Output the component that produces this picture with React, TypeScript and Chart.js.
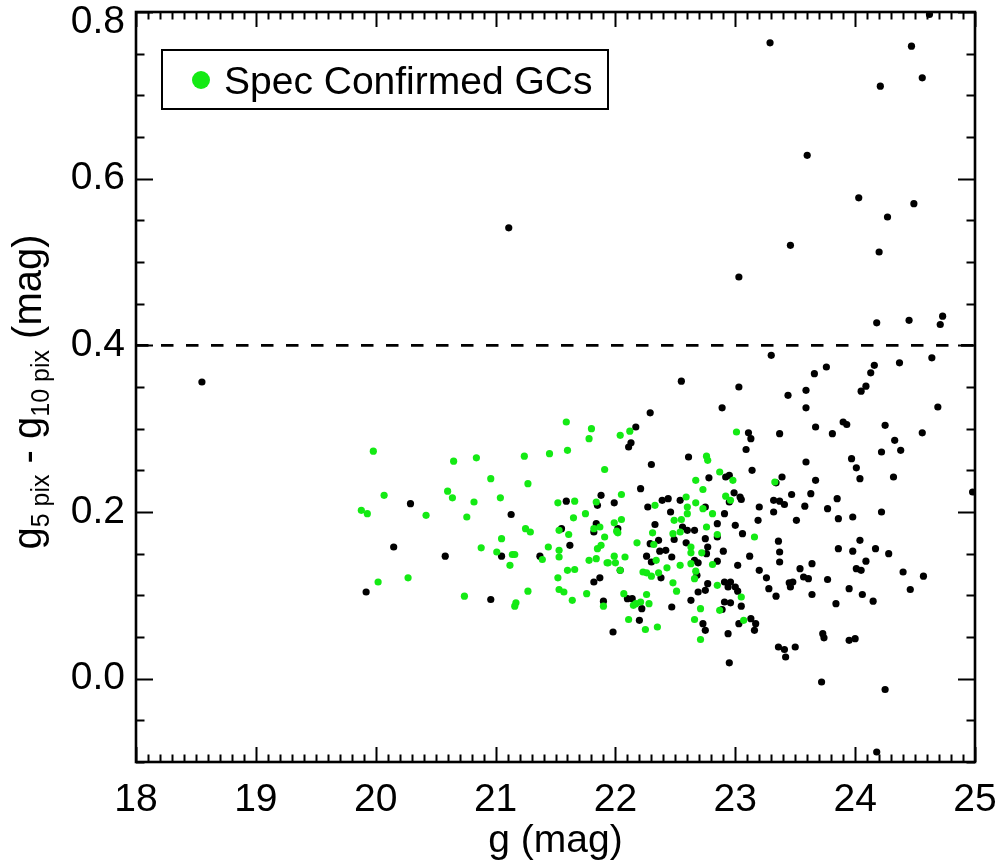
import React, { useEffect, useRef } from "react";
import { Chart, registerables } from "chart.js";

Chart.register(...registerables);

// ---- axes ----
const X_MIN = 18;
const X_MAX = 25;
const Y_MIN = -0.1;
const Y_MAX = 0.8;
const X_TICKS = [18, 19, 20, 21, 22, 23, 24, 25];
const Y_TICKS = [0.0, 0.2, 0.4, 0.6, 0.8];
const X_MINOR_STEP = 0.1;
const Y_MINOR_STEP = 0.05;
const DASH_LEVEL = 0.4;

const X_TITLE = "g (mag)";
const Y_TITLE_PARTS = [
  { text: "g", sub: false },
  { text: "5 pix", sub: true },
  { text: " - g", sub: false },
  { text: "10 pix", sub: true },
  { text: " (mag)", sub: false },
];
const LEGEND_LABEL = "Spec Confirmed GCs";

// ---- data: all sources (black) ----
const allG = [
  18.55, 21.11, 23.29, 24.47, 24.56, 24.21, 24.62, 23.60, 24.03, 24.49, 24.27, 23.46, 24.20, 23.03, 24.18, 24.45, 24.71, 24.73,
  23.30, 24.64, 24.37, 24.16, 24.13, 23.76, 23.66, 22.55, 23.03, 24.09, 24.05, 23.44, 23.59, 24.98,
  23.59, 24.69, 24.25, 24.56, 23.90, 23.93, 23.67, 23.81, 23.37, 23.11, 23.13, 24.33, 24.38, 24.22, 23.09, 23.59, 23.97, 24.01,
  23.14, 24.04, 24.32, 23.39, 23.67, 23.34, 23.47, 23.63, 23.85, 23.04, 23.05, 23.32, 23.37, 23.41, 23.20, 23.58, 23.77, 23.32,
  24.22, 23.86, 23.98, 23.51, 23.19, 23.06, 23.36, 24.04, 23.86, 23.98, 24.17, 24.28, 23.37, 23.12, 23.37, 23.64, 24.09, 23.02,
  23.20, 23.54, 24.01, 24.05, 24.40, 24.57, 23.26, 23.57, 23.61, 23.77, 23.45, 23.48, 23.46, 23.28, 23.95, 24.46, 23.34, 23.64,
  24.06, 23.05, 23.84, 24.15, 23.13, 23.17, 23.16, 23.73, 23.74, 23.95, 24.00, 23.36, 23.41, 23.42, 23.50, 23.72, 24.25, 24.18,
  22.29, 22.89, 22.17, 22.13, 22.11, 22.61, 22.30, 22.21, 22.78, 22.92, 22.95, 22.99, 22.95, 21.59, 21.88, 21.85, 21.99, 22.27,
  22.39, 22.44, 22.54, 22.75, 22.46, 21.13, 22.91, 23.00, 22.85, 22.33, 22.56, 22.60, 22.66, 22.75, 22.85, 21.82, 21.84, 21.55,
  22.02, 21.62, 21.37, 21.05, 22.29, 22.36, 22.37, 22.42, 22.49, 22.47, 22.26, 22.30, 22.59, 22.77, 22.76, 22.90, 22.66, 22.69,
  22.85, 22.68, 22.38, 22.04, 21.87, 21.82, 22.77, 22.91, 22.96, 22.94, 23.00, 23.02, 22.69, 22.75, 22.63, 22.91, 22.96, 22.89,
  22.47, 22.10, 22.14, 21.90, 22.22, 22.20, 21.98, 22.73, 22.75, 22.94, 23.03, 22.95,
  20.29, 20.15, 20.58, 19.92, 20.96,
];
const allV = [
  0.356, 0.541, 0.763, 0.759, 0.721, 0.711, 0.797, 0.628, 0.577, 0.570, 0.554, 0.520, 0.512, 0.482, 0.427, 0.430, 0.425, 0.435,
  0.388, 0.385, 0.379, 0.376, 0.367, 0.374, 0.366, 0.357, 0.350, 0.351, 0.345, 0.340, 0.346, 0.224,
  0.325, 0.326, 0.304, 0.295, 0.308, 0.305, 0.302, 0.294, 0.294, 0.295, 0.288, 0.286, 0.274, 0.272, 0.275, 0.260, 0.264, 0.253,
  0.250, 0.240, 0.242, 0.242, 0.238, 0.235, 0.221, 0.222, 0.216, 0.218, 0.215, 0.214, 0.213, 0.209, 0.206, 0.207, 0.204, 0.200,
  0.200, 0.192, 0.194, 0.190, 0.190, 0.174, 0.165, 0.166, 0.156, 0.153, 0.156, 0.150, 0.152, 0.147, 0.140, 0.138, 0.141, 0.136,
  0.130, 0.132, 0.132, 0.130, 0.128, 0.123, 0.121, 0.122, 0.120, 0.119, 0.115, 0.116, 0.110, 0.108, 0.108, 0.107, 0.099, 0.101,
  0.101, 0.087, 0.090, 0.093, 0.072, 0.066, 0.058, 0.054, 0.049, 0.046, 0.048, 0.038, 0.035, 0.026, 0.038, -0.004, -0.013, -0.088,
  0.319, 0.325, 0.302, 0.283, 0.278, 0.266, 0.257, 0.228, 0.241, 0.242, 0.244, 0.223, 0.212, 0.213, 0.220, 0.208, 0.211, 0.206,
  0.214, 0.216, 0.214, 0.206, 0.200, 0.197, 0.198, 0.184, 0.186, 0.185, 0.182, 0.178, 0.178, 0.168, 0.170, 0.176, 0.186, 0.180,
  0.180, 0.160, 0.147, 0.147, 0.162, 0.166, 0.153, 0.154, 0.167, 0.146, 0.147, 0.140, 0.163, 0.158, 0.150, 0.153, 0.142, 0.139,
  0.141, 0.124, 0.121, 0.130, 0.121, 0.116, 0.114, 0.116, 0.116, 0.110, 0.110, 0.105, 0.104, 0.106, 0.094, 0.092, 0.091, 0.083,
  0.086, 0.096, 0.096, 0.093, 0.084, 0.070, 0.056, 0.066, 0.058, 0.054, 0.066, 0.019,
  0.210, 0.158, 0.147, 0.104, 0.095,
];

// ---- data: spectroscopically confirmed GCs (green) ----
const gcG = [
  23.01, 23.33, 23.16, 23.05, 23.07,
  21.59, 21.80, 21.78, 22.04, 22.12, 21.45, 21.60, 21.24, 21.91, 21.27, 21.04, 22.76, 22.77, 22.87, 22.67, 22.98, 22.73,
  22.92, 22.96, 22.59, 22.67, 22.60, 22.60, 22.73, 22.81, 22.55, 22.49, 22.76, 22.54, 22.48, 22.31, 22.85, 22.33, 22.05, 21.84,
  21.66, 21.52, 21.75, 21.65, 22.05, 21.99, 21.87, 21.82, 22.01, 22.02, 21.53, 21.25, 21.29, 21.05, 21.61, 21.91, 22.18, 22.32,
  21.88, 21.85, 21.44, 21.53, 22.63, 22.63, 22.72, 21.14, 21.16, 21.53, 21.39, 21.99, 22.08, 21.78, 21.84, 21.93, 21.94, 22.00,
  22.34, 22.54, 22.63, 22.81, 22.43, 21.12, 21.60, 21.66, 22.04, 22.23, 22.26, 22.30, 22.36, 22.67, 22.66, 21.52, 22.48, 22.51,
  22.85, 21.27, 21.53, 21.57, 21.76, 22.07, 22.26, 21.64, 21.17, 21.16, 21.90, 22.15, 22.21, 22.17, 22.28, 22.71, 22.87, 22.11,
  22.25, 22.35, 22.66, 22.71,
  19.98, 20.65, 20.84, 20.96, 20.07, 20.60, 20.64, 20.82, 19.88, 19.93, 20.42, 20.76, 20.88, 21.01, 20.02, 20.27, 20.74,
];
const gcV = [
  0.296, 0.236, 0.170, 0.098, 0.070,
  0.308, 0.300, 0.288, 0.292, 0.297, 0.270, 0.274, 0.267, 0.251, 0.234, 0.217, 0.267, 0.262, 0.248, 0.238, 0.238, 0.227,
  0.219, 0.214, 0.218, 0.211, 0.206, 0.198, 0.204, 0.198, 0.191, 0.190, 0.182, 0.176, 0.174, 0.175, 0.173, 0.208, 0.221, 0.212,
  0.213, 0.211, 0.198, 0.193, 0.191, 0.187, 0.182, 0.180, 0.177, 0.175, 0.178, 0.180, 0.176, 0.168, 0.173, 0.170, 0.163, 0.161,
  0.160, 0.156, 0.158, 0.154, 0.158, 0.151, 0.151, 0.149, 0.149, 0.146, 0.143, 0.147, 0.146, 0.142, 0.144, 0.139, 0.139, 0.139,
  0.142, 0.136, 0.138, 0.137, 0.133, 0.136, 0.130, 0.131, 0.130, 0.128, 0.127, 0.123, 0.127, 0.129, 0.120, 0.121, 0.115, 0.105,
  0.112, 0.105, 0.107, 0.104, 0.102, 0.102, 0.101, 0.094, 0.091, 0.087, 0.087, 0.088, 0.092, 0.090, 0.090, 0.084, 0.082, 0.071,
  0.059, 0.062, 0.071, 0.047,
  0.273, 0.261, 0.265, 0.240, 0.220, 0.225, 0.217, 0.212, 0.202, 0.198, 0.196, 0.194, 0.157, 0.152, 0.116, 0.121, 0.099,
];

const FONT_FAMILY = '"Liberation Sans", Arial, Helvetica, sans-serif';
const GREEN = "#14ea14";
const FONT_SIZE = 39;

const framePlugin = {
  id: "idlFrame",
  afterDatasetsDraw(chart: any) {
    const { ctx, chartArea: a } = chart;
    const xs = chart.scales.x;
    const ys = chart.scales.y;
    ctx.save();
    ctx.strokeStyle = "#000";
    ctx.lineWidth = 2;
    ctx.beginPath();
    const nx = Math.round((X_MAX - X_MIN) / X_MINOR_STEP);
    for (let i = 0; i <= nx; i++) {
      const v = X_MIN + i * X_MINOR_STEP;
      const px = Math.round(xs.getPixelForValue(v)) + 0.5;
      const major = X_TICKS.some((t) => Math.abs(t - v) < 1e-6);
      const len = major ? 15 : 7.5;
      ctx.moveTo(px, a.bottom);
      ctx.lineTo(px, a.bottom - len);
      ctx.moveTo(px, a.top);
      ctx.lineTo(px, a.top + len);
    }
    const ny = Math.round((Y_MAX - Y_MIN) / Y_MINOR_STEP);
    for (let i = 0; i <= ny; i++) {
      const v = Y_MIN + i * Y_MINOR_STEP;
      const py = Math.round(ys.getPixelForValue(v)) + 0.5;
      const major = Y_TICKS.some((t) => Math.abs(t - v) < 1e-6);
      const len = major ? 17 : 8.5;
      ctx.moveTo(a.left, py);
      ctx.lineTo(a.left + len, py);
      ctx.moveTo(a.right, py);
      ctx.lineTo(a.right - len, py);
    }
    ctx.stroke();
    ctx.lineWidth = 2.6;
    ctx.strokeRect(a.left, a.top, a.right - a.left, a.bottom - a.top);
    ctx.restore();
  },
  afterDraw(chart: any) {
    const { ctx, chartArea: a } = chart;
    ctx.save();
    ctx.fillStyle = "#000";
    // x title
    ctx.font = `${FONT_SIZE}px ${FONT_FAMILY}`;
    ctx.textAlign = "center";
    ctx.textBaseline = "alphabetic";
    ctx.fillText(X_TITLE, (a.left + a.right) / 2, 852);
    // y title with subscripts
    const mainFont = `40px ${FONT_FAMILY}`;
    const subFont = `25px ${FONT_FAMILY}`;
    let total = 0;
    for (const p of Y_TITLE_PARTS) {
      ctx.font = p.sub ? subFont : mainFont;
      total += ctx.measureText(p.text).width;
    }
    ctx.translate(41, 392);
    ctx.rotate(-Math.PI / 2);
    ctx.textAlign = "left";
    let x = -total / 2;
    for (const p of Y_TITLE_PARTS) {
      ctx.font = p.sub ? subFont : mainFont;
      ctx.fillText(p.text, x, p.sub ? 8 : 0);
      x += ctx.measureText(p.text).width;
    }
    ctx.restore();
    // legend
    ctx.save();
    ctx.lineWidth = 2;
    ctx.strokeStyle = "#000";
    ctx.fillStyle = "#fff";
    ctx.fillRect(162, 50, 446, 59);
    ctx.strokeRect(162, 50, 446, 59);
    ctx.fillStyle = GREEN;
    ctx.beginPath();
    ctx.arc(201, 80, 9, 0, Math.PI * 2);
    ctx.fill();
    ctx.fillStyle = "#000";
    ctx.font = `${FONT_SIZE}px ${FONT_FAMILY}`;
    ctx.textAlign = "left";
    ctx.textBaseline = "alphabetic";
    ctx.fillText(LEGEND_LABEL, 224, 94);
    ctx.restore();
  },
};

export default function App() {
  const ref = useRef<HTMLCanvasElement | null>(null);
  useEffect(() => {
    if (!ref.current) return;
    const black = allG.map((g, i) => ({ x: g, y: allV[i] }));
    const green = gcG.map((g, i) => ({ x: g, y: gcV[i] }));
    const chart = new Chart(ref.current, {
      type: "scatter",
      data: {
        datasets: [
          {
            label: LEGEND_LABEL,
            data: green,
            backgroundColor: GREEN,
            borderWidth: 0,
            pointRadius: 3.6,
            order: 0,
          },
          {
            label: "All",
            data: black,
            backgroundColor: "#000",
            borderWidth: 0,
            pointRadius: 3.6,
            order: 1,
          },
          {
            type: "line",
            label: "cut",
            data: [
              { x: X_MIN, y: DASH_LEVEL },
              { x: X_MAX, y: DASH_LEVEL },
            ],
            borderColor: "#000",
            borderWidth: 2.6,
            borderDash: [12.5, 12.5],
            pointRadius: 0,
            order: 2,
          } as any,
        ],
      },
      options: {
        responsive: false,
        animation: false,
        devicePixelRatio: 1,
        layout: { padding: { top: 12, right: 25, left: 0, bottom: 0 } },
        plugins: { legend: { display: false }, tooltip: { enabled: false } },
        scales: {
          x: {
            type: "linear",
            min: X_MIN,
            max: X_MAX,
            grid: { display: false, drawTicks: false },
            border: { display: false },
            afterBuildTicks: (s: any) => {
              s.ticks = X_TICKS.map((v) => ({ value: v }));
            },
            ticks: {
              color: "#000",
              padding: 15,
              maxRotation: 0,
              font: { family: FONT_FAMILY, size: FONT_SIZE },
              callback: (v: any) => String(v),
            },
            afterFit: (s: any) => {
              s.height = 105;
              s.paddingLeft = 0;
              s.paddingRight = 0;
            },
          },
          y: {
            type: "linear",
            min: Y_MIN,
            max: Y_MAX,
            grid: { display: false, drawTicks: false },
            border: { display: false },
            afterBuildTicks: (s: any) => {
              s.ticks = Y_TICKS.map((v) => ({ value: v }));
            },
            ticks: {
              color: "#000",
              padding: 11,
              font: (c: any) =>
                c.tick && Math.abs(c.tick.value - Y_MAX) < 1e-6
                  ? { family: FONT_FAMILY, size: FONT_SIZE, lineHeight: 0.52 }
                  : { family: FONT_FAMILY, size: FONT_SIZE },
              callback: (v: any) =>
                Math.abs(v - Y_MAX) < 1e-6 ? ["", Number(v).toFixed(1)] : Number(v).toFixed(1),
            },
            afterFit: (s: any) => {
              s.width = 136;
              s.paddingTop = 0;
              s.paddingBottom = 0;
            },
          },
        },
      },
      plugins: [framePlugin],
    });
    return () => chart.destroy();
  }, []);
  return (
    <div style={{ position: "absolute", left: 0, top: 0, width: 1000, height: 867, background: "#fff" }}>
      <canvas ref={ref} width={1000} height={867} style={{ display: "block" }} />
    </div>
  );
}
